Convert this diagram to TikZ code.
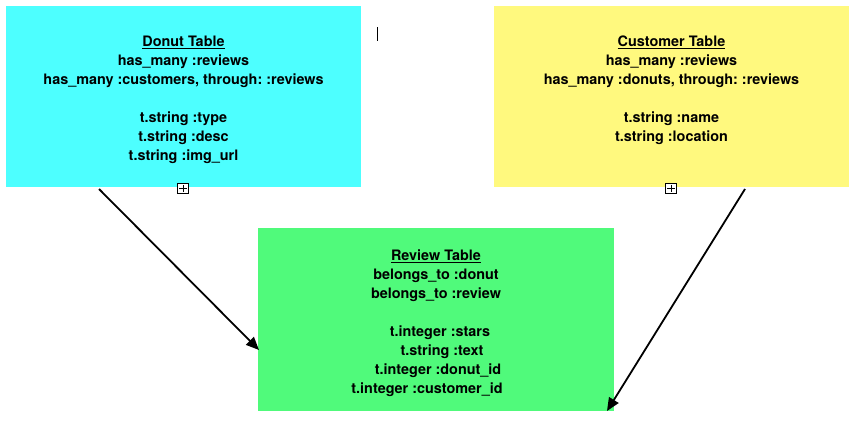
\documentclass[tikz,border=0pt]{standalone}
\usepackage{fontspec}
\setmainfont{TeX Gyre Heros}
\usetikzlibrary{arrows.meta}
\definecolor{donutc}{HTML}{4DFFFF}
\definecolor{custc}{HTML}{FFF97E}
\definecolor{revc}{HTML}{50FA7B}
\frenchspacing
\begin{document}
\begin{tikzpicture}[x=1pt,y=-1pt,
  tbox/.style={draw=none,inner sep=0pt,minimum width=355pt,anchor=north west},
  ttext/.style={align=center,font=\bfseries\fontsize{14.4}{19}\selectfont,inner sep=0pt,anchor=north},
  conn/.style={line width=1.8pt,-{Triangle[length=13pt,width=11pt]}},
  plusbox/.style={draw,line width=0.8pt,minimum size=10.5pt,inner sep=0pt,fill=white}
]
\useasboundingbox (0,0) rectangle (855,426);
\node[tbox,fill=donutc,minimum height=181pt] (donut) at (6,6) {};
\node[tbox,fill=custc,minimum height=181pt] (cust) at (494,6) {};
\node[tbox,fill=revc,minimum width=356pt,minimum height=183pt] (rev) at (258,228) {};
\node[ttext] (donuttxt) at (183.5,36) {\underline{Donut Table}\\has\_many :reviews\\has\_many :customers, through: :reviews\\[19pt]t.string :type\\t.string :desc\\t.string :img\_url};
\node[ttext] (custtxt) at (671.5,36) {\underline{Customer Table}\\has\_many :reviews\\has\_many :donuts, through: :reviews\\[19pt]t.string :name\\t.string :location};
\node[ttext] (revtxt) at (436,250) {\underline{Review Table}\\belongs\_to :donut\\belongs\_to :review\\[19pt]\hspace*{8pt}t.integer :stars\\\hspace*{12pt}t.string :text\\\hspace*{4pt}t.integer :donut\_id\\t.integer :customer\_id\hspace*{18pt}};
\node[plusbox] (p1) at (183,188.5) {};
\draw[line width=0.7pt] ([yshift=-2pt]p1.north) -- ([yshift=2pt]p1.south) ([xshift=2pt]p1.west) -- ([xshift=-2pt]p1.east);
\node[plusbox] (p2) at (671,188.5) {};
\draw[line width=0.7pt] ([yshift=-2pt]p2.north) -- ([yshift=2pt]p2.south) ([xshift=2pt]p2.west) -- ([xshift=-2pt]p2.east);
\coordinate (cursortop) at (377,27);
\coordinate (cursorbot) at (377,41);
\draw[line width=1pt] (cursortop) -- (cursorbot);
\coordinate (a1s) at (99,189);
\coordinate (a1e) at (259,350);
\coordinate (a2s) at (745,189);
\coordinate (a2e) at (607,411);
\draw[conn] (a1s) -- (a1e);
\draw[conn] (a2s) -- (a2e);
\end{tikzpicture}
\end{document}
